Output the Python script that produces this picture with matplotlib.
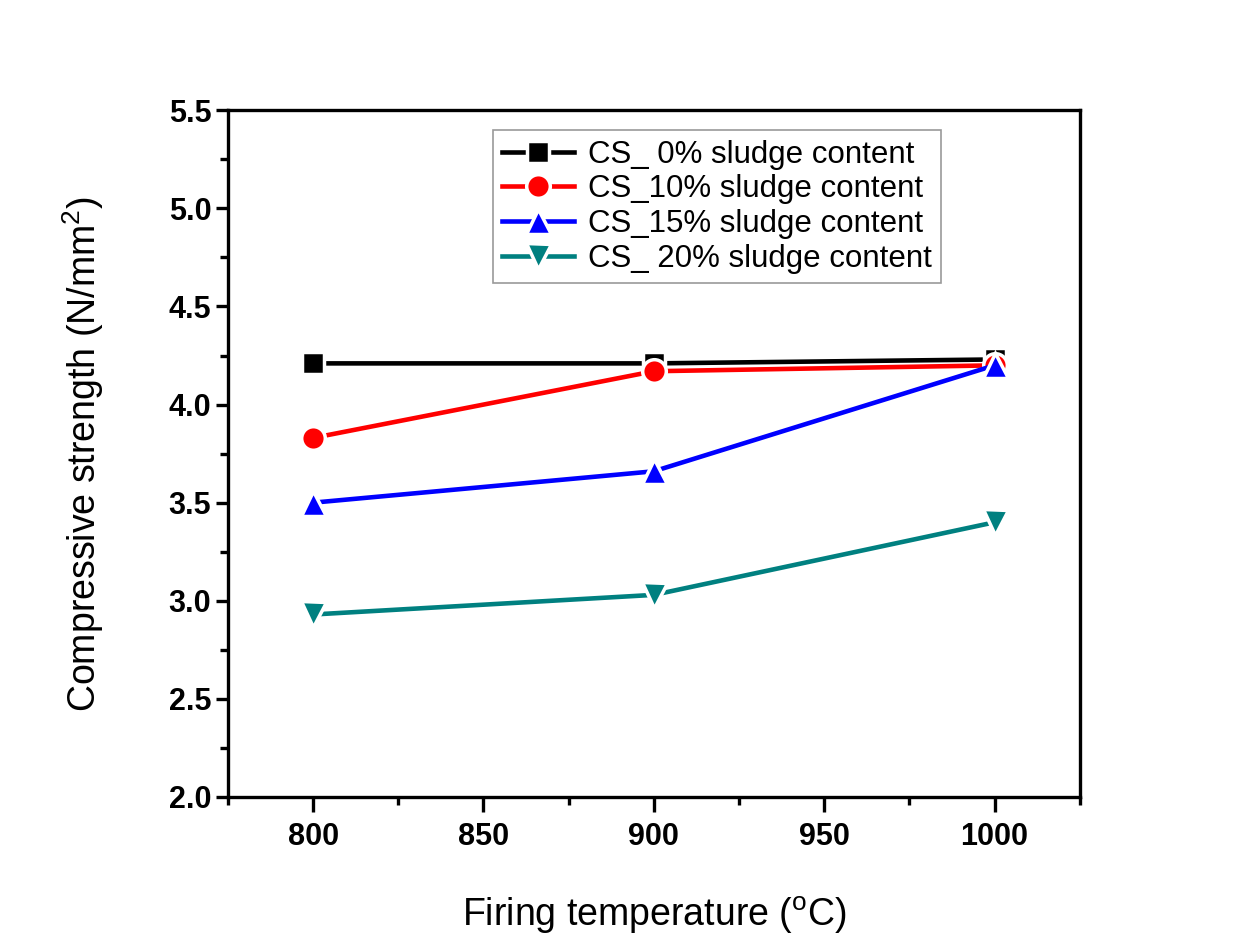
import numpy as np
import matplotlib.pyplot as plt
from matplotlib.ticker import MultipleLocator

plt.rcParams['font.family'] = ['Liberation Sans', 'DejaVu Sans']
plt.rcParams['mathtext.fontset'] = 'custom'
plt.rcParams['mathtext.rm'] = 'Liberation Sans'

temps = [800, 900, 1000]
cs_0 = [4.21, 4.21, 4.23]
cs_10 = [3.83, 4.17, 4.20]
cs_15 = [3.50, 3.66, 4.20]
cs_20 = [2.93, 3.03, 3.40]

labels = ['CS_ 0% sludge content', 'CS_10% sludge content',
          'CS_15% sludge content', 'CS_ 20% sludge content']

fig = plt.figure(figsize=(12.49, 9.51), dpi=100)
ax = fig.add_axes([0.1825, 0.162, 0.682, 0.722])

ax.plot(temps, cs_0, '-s', color='black', lw=3.3, ms=16, mec='white', mew=2.5, label=labels[0])
ax.plot(temps, cs_10, '-o', color='red', lw=3.3, ms=17, mec='white', mew=2.5, label=labels[1])
ax.plot(temps, cs_15, '-^', color='blue', lw=3.3, ms=18, mec='white', mew=2.5, label=labels[2])
ax.plot(temps, cs_20, '-v', color='#008080', lw=3.3, ms=18, mec='white', mew=2.5, label=labels[3])

ax.set_xlim(775, 1025)
ax.set_ylim(2.0, 5.5)
ax.xaxis.set_major_locator(MultipleLocator(50))
ax.xaxis.set_minor_locator(MultipleLocator(25))
ax.yaxis.set_major_locator(MultipleLocator(0.5))
ax.yaxis.set_minor_locator(MultipleLocator(0.25))
ax.yaxis.set_major_formatter(plt.FormatStrFormatter('%.1f'))

for s in ax.spines.values():
    s.set_linewidth(2.4)
ax.tick_params(which='major', direction='out', length=11, width=2.4, labelsize=22)
ax.tick_params(which='minor', direction='out', length=6, width=2.4)
ax.tick_params(axis='x', which='major', pad=7)
ax.tick_params(axis='y', which='major', length=9, pad=3)
for t in ax.get_xticklabels() + ax.get_yticklabels():
    t.set_fontweight('bold')

ax.set_xlabel(r'Firing temperature ($^{\mathrm{o}}$C)', fontsize=27, labelpad=31)
ax.set_ylabel(r'Compressive strength (N/mm$^{\mathrm{2}}$)', fontsize=27, labelpad=45)

leg = ax.legend(loc='upper left', bbox_to_anchor=(0.311, 0.971), borderaxespad=0,
                fontsize=22.5, frameon=True, fancybox=False, handlelength=2.3,
                labelspacing=0.15, borderpad=0.3, handletextpad=0.45)
leg.get_frame().set_edgecolor('gray')
leg.get_frame().set_linewidth(1.2)

fig.savefig('out.png', dpi=100)
